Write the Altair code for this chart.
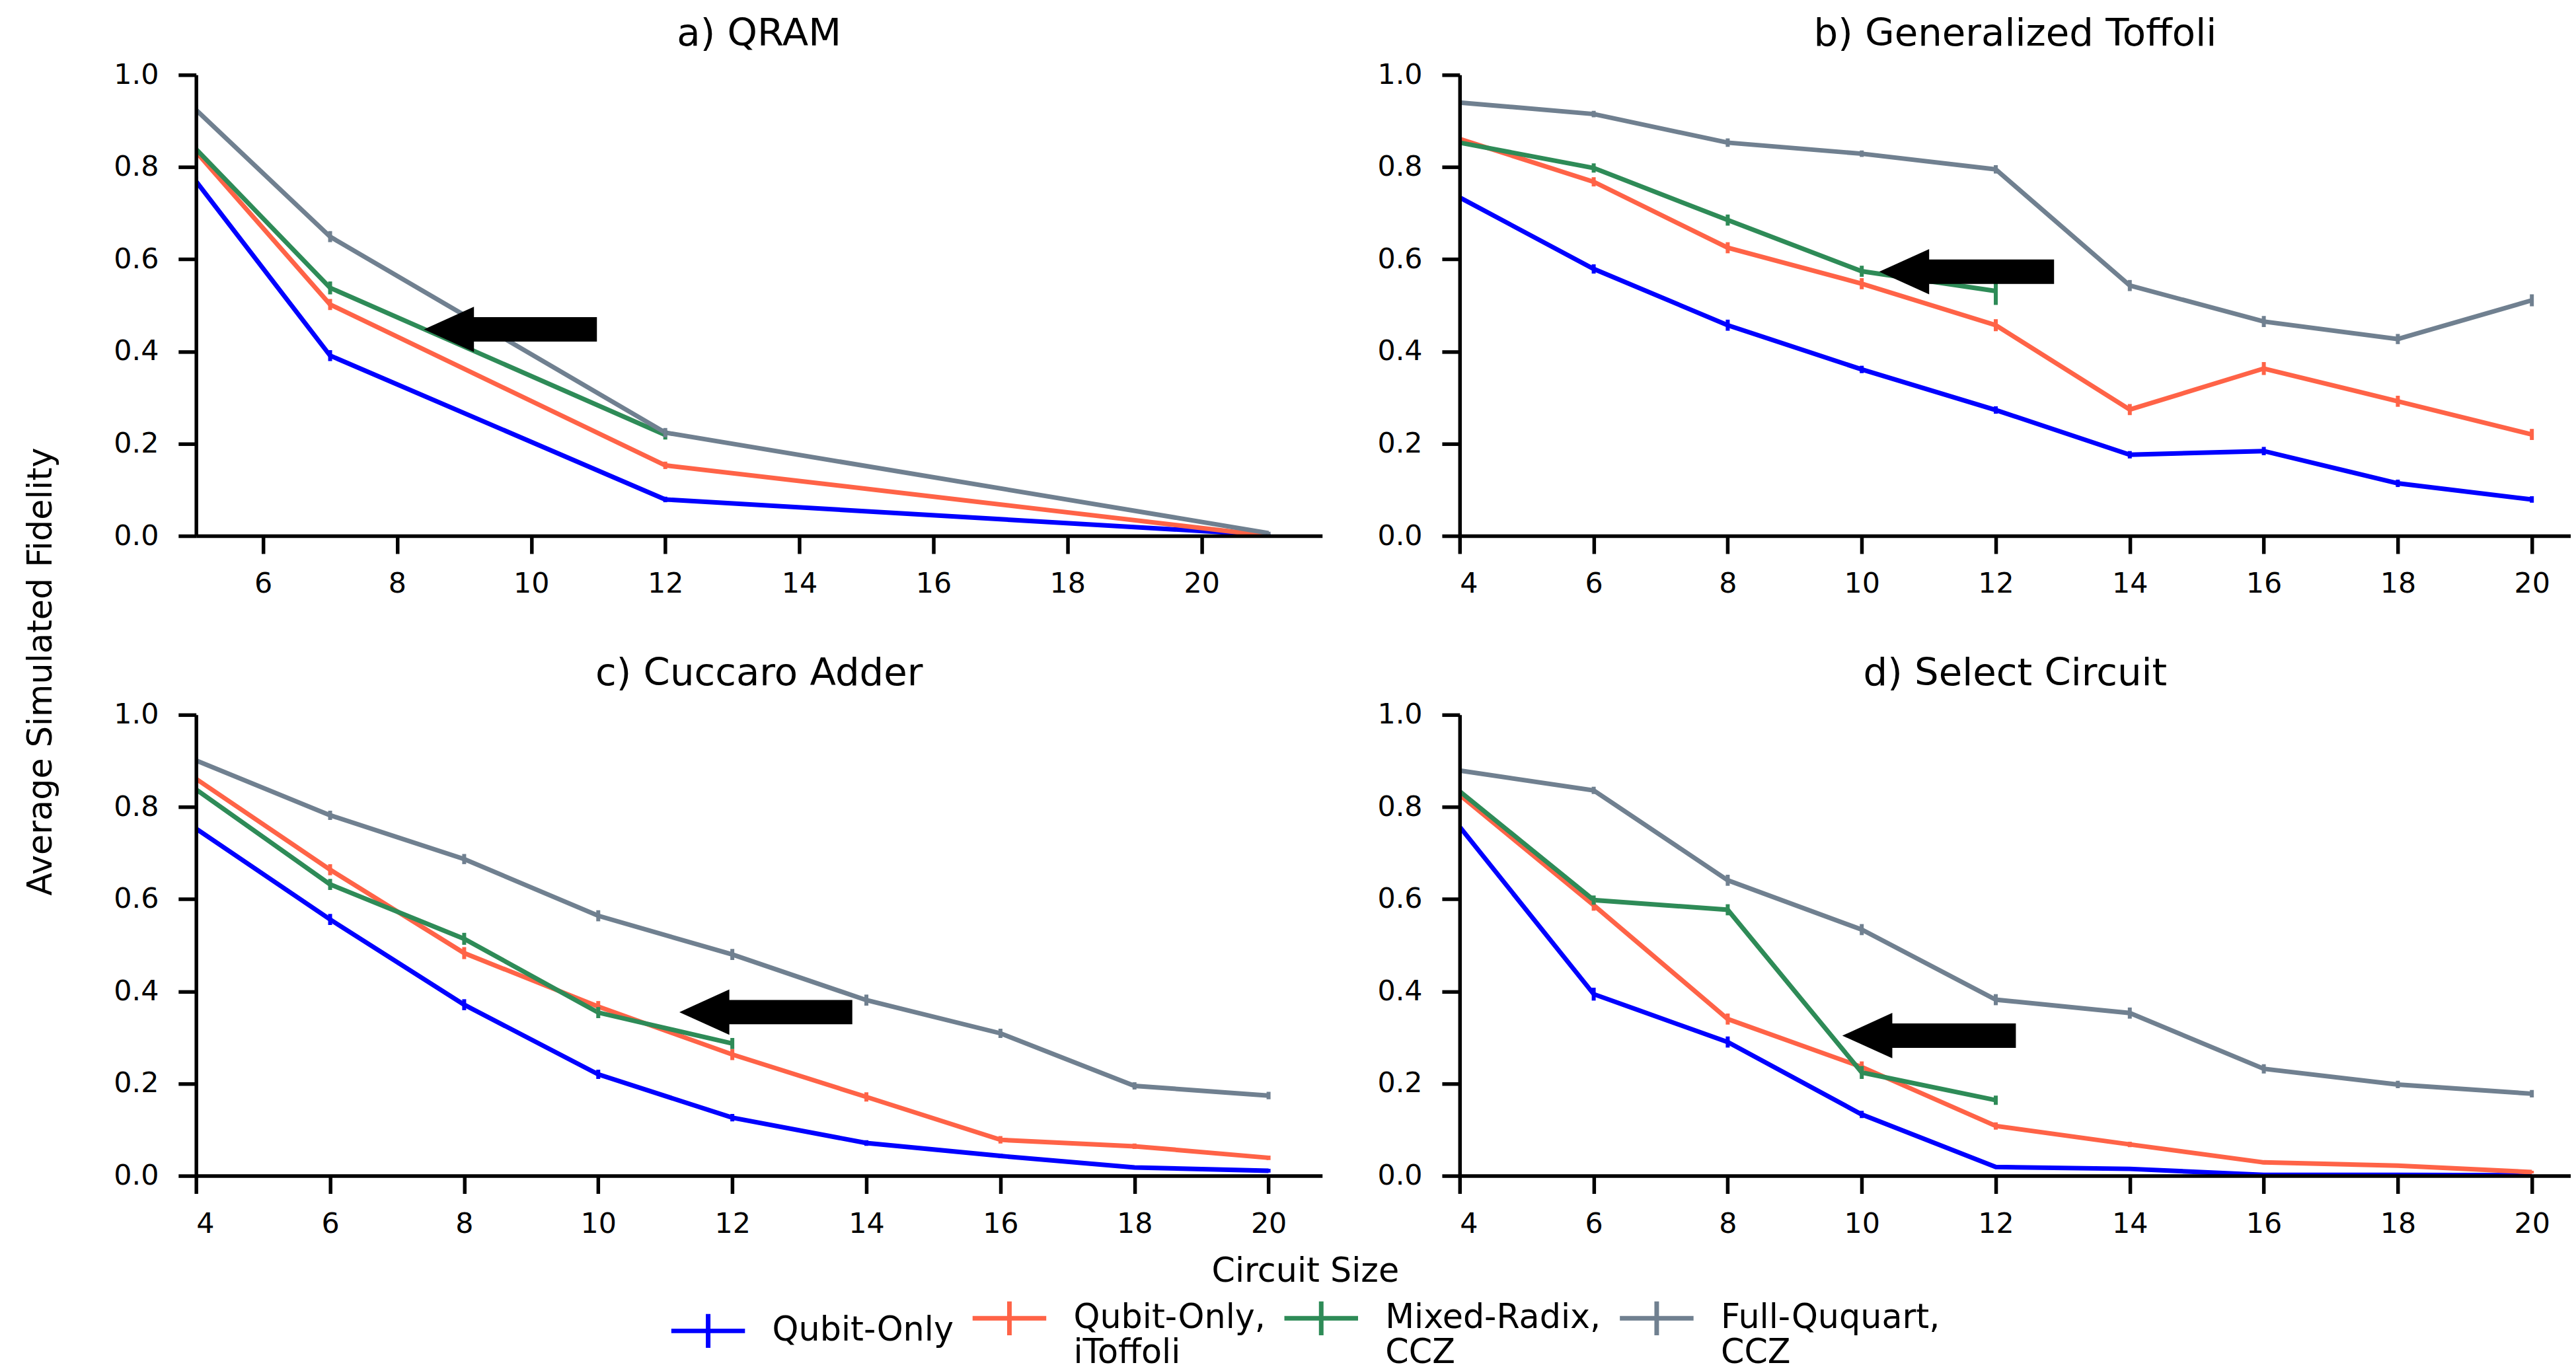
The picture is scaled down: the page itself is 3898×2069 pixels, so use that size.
import altair as alt
import pandas as pd

FONT = "DejaVu Sans"
SERIES = ["Qubit-Only", "Qubit-Only,\niToffoli", "Mixed-Radix,\nCCZ", "Full-Ququart,\nCCZ"]
COLORS = ["#0000FF", "#FF6347", "#2E8B57", "#708090"]

# ---------------- a) QRAM ----------------
qram_x = [5, 7, 12, 21]
qram_x_mr = [5, 7, 12]
qram_qubit = [0.769, 0.391, 0.079, 0.002]
qram_qubit_err = [0.010, 0.012, 0.006, 0.002]
qram_itoffoli = [0.833, 0.502, 0.153, 0.000]
qram_itoffoli_err = [0.010, 0.012, 0.008, 0.002]
qram_mixed = [0.839, 0.538, 0.219]
qram_mixed_err = [0.010, 0.014, 0.010]
qram_ququart = [0.924, 0.649, 0.224, 0.006]
qram_ququart_err = [0.010, 0.012, 0.010, 0.003]
qram_arrow = {"tip": 8.40, "tail": 10.98, "y": 0.448}

# ---------------- b) Generalized Toffoli ----------------
size_x = [4, 6, 8, 10, 12, 14, 16, 18, 20]
size_x_mr = [4, 6, 8, 10, 12]
tof_qubit = [0.734, 0.579, 0.457, 0.361, 0.273, 0.176, 0.184, 0.114, 0.079]
tof_qubit_err = [0.008, 0.010, 0.012, 0.008, 0.008, 0.008, 0.009, 0.008, 0.007]
tof_itoffoli = [0.861, 0.768, 0.625, 0.547, 0.457, 0.274, 0.363, 0.292, 0.220]
tof_itoffoli_err = [0.008, 0.010, 0.012, 0.012, 0.013, 0.012, 0.014, 0.012, 0.012]
tof_mixed = [0.853, 0.798, 0.685, 0.574, 0.531]
tof_mixed_err = [0.008, 0.010, 0.012, 0.012, 0.030]
tof_ququart = [0.940, 0.915, 0.853, 0.829, 0.795, 0.543, 0.465, 0.427, 0.511]
tof_ququart_err = [0.006, 0.007, 0.009, 0.007, 0.009, 0.012, 0.012, 0.011, 0.013]
tof_arrow = {"tip": 10.26, "tail": 12.87, "y": 0.573}

# ---------------- c) Cuccaro Adder ----------------
add_qubit = [0.753, 0.556, 0.371, 0.220, 0.126, 0.071, 0.043, 0.018, 0.011]
add_qubit_err = [0.008, 0.012, 0.012, 0.010, 0.008, 0.006, 0.005, 0.004, 0.004]
add_itoffoli = [0.861, 0.664, 0.483, 0.367, 0.263, 0.171, 0.078, 0.064, 0.039]
add_itoffoli_err = [0.008, 0.012, 0.013, 0.012, 0.012, 0.010, 0.008, 0.006, 0.005]
add_mixed = [0.838, 0.632, 0.514, 0.354, 0.287]
add_mixed_err = [0.008, 0.012, 0.013, 0.012, 0.012]
add_ququart = [0.901, 0.782, 0.687, 0.564, 0.480, 0.381, 0.309, 0.195, 0.174]
add_ququart_err = [0.006, 0.010, 0.011, 0.012, 0.012, 0.012, 0.010, 0.008, 0.008]
add_arrow = {"tip": 11.21, "tail": 13.79, "y": 0.355}

# ---------------- d) Select Circuit ----------------
sel_qubit = [0.757, 0.394, 0.290, 0.133, 0.019, 0.015, 0.002, 0.002, 0.001]
sel_qubit_err = [0.008, 0.014, 0.012, 0.008, 0.004, 0.003, 0.002, 0.002, 0.001]
sel_itoffoli = [0.826, 0.587, 0.340, 0.236, 0.108, 0.068, 0.029, 0.022, 0.008]
sel_itoffoli_err = [0.008, 0.012, 0.012, 0.012, 0.008, 0.006, 0.004, 0.004, 0.003]
sel_mixed = [0.834, 0.598, 0.577, 0.224, 0.164]
sel_mixed_err = [0.008, 0.010, 0.012, 0.014, 0.010]
sel_ququart = [0.879, 0.836, 0.641, 0.534, 0.382, 0.353, 0.232, 0.198, 0.178]
sel_ququart_err = [0.006, 0.008, 0.012, 0.012, 0.012, 0.012, 0.010, 0.008, 0.008]
sel_arrow = {"tip": 9.71, "tail": 12.30, "y": 0.304}

Y_TICKS = [0.0, 0.2, 0.4, 0.6, 0.8, 1.0]
X_TICKS_A = [6, 8, 10, 12, 14, 16, 18, 20]
X_TICKS = [4, 6, 8, 10, 12, 14, 16, 18, 20]

HEAD_PATH = "M0,0L2,-0.908L2,0.908Z"
HEAD_SIZE = 5776
HEAD_LEN = 0.70

LEGEND = alt.Legend(
    title=None,
    orient="none",
    legendX=719,
    legendY=59,
    direction="horizontal",
    padding=0,
    symbolType="M-1,0H1M0,-0.46V0.46",
    symbolSize=12544,
    symbolStrokeWidth=7,
    symbolOpacity=1,
    labelFontSize=51,
    labelFont=FONT,
    labelColor="black",
    labelLimit=1000,
    labelOffset=38,
    columnPadding=14,
    labelExpr="split(datum.label, '\\n')",
)
COLOR_SCALE = alt.Scale(domain=SERIES, range=COLORS)


def make_df(xs_list, ys_list, errs_list):
    rows = []
    for s, xs, ys, es in zip(SERIES, xs_list, ys_list, errs_list):
        for x, y, e in zip(xs, ys, es):
            rows.append({"series": s, "x": x, "y": y, "lo": max(0.0, y - e), "hi": y + e})
    return pd.DataFrame(rows)


def panel(title, df, arrow, xdomain, xticks, width):
    xs = alt.Scale(domain=xdomain, nice=False, zero=False)
    ys = alt.Scale(domain=[0, 1], nice=False, zero=False)
    xaxis = alt.Axis(values=xticks, labelPadding=25, tickSize=27, zindex=1, grid=False)
    yaxis = alt.Axis(values=Y_TICKS, format=".1f", labelPadding=30, tickSize=27, zindex=1, grid=False)
    color = alt.Color("series:N", scale=COLOR_SCALE, legend=None)
    base = alt.Chart(df)
    lines = base.mark_line(strokeWidth=7, clip=True).encode(
        x=alt.X("x:Q", scale=xs, axis=xaxis, title=None),
        y=alt.Y("y:Q", scale=ys, axis=yaxis, title=None),
        color=color,
    )
    errs = base.mark_rule(strokeWidth=6, clip=True).encode(
        x=alt.X("x:Q", scale=xs, axis=xaxis, title=None),
        y=alt.Y("lo:Q", scale=ys, axis=yaxis, title=None),
        y2="hi:Q",
        color=color,
    )
    adf = pd.DataFrame([{"tip": arrow["tip"], "tail": arrow["tail"], "y": arrow["y"],
                         "shaft": arrow["tip"] + HEAD_LEN}])
    shaft = alt.Chart(adf).mark_rule(color="black", strokeWidth=37, strokeCap="butt").encode(
        x=alt.X("shaft:Q", scale=xs, axis=xaxis, title=None),
        x2="tail:Q",
        y=alt.Y("y:Q", scale=ys, axis=yaxis, title=None),
    )
    head = alt.Chart(adf).mark_point(shape=HEAD_PATH, size=HEAD_SIZE, filled=True,
                                     color="black", opacity=1, strokeWidth=0).encode(
        x=alt.X("tip:Q", scale=xs, axis=xaxis, title=None),
        y=alt.Y("y:Q", scale=ys, axis=yaxis, title=None),
    )
    return alt.layer(lines, errs, shaft, head).properties(
        width=width,
        height=701,
        title=alt.TitleParams(title, fontSize=58, font=FONT, fontWeight="normal",
                              anchor="middle", baseline="alphabetic", offset=-34, color="black"),
    )


df_a = make_df([qram_x, qram_x, qram_x_mr, qram_x],
               [qram_qubit, qram_itoffoli, qram_mixed, qram_ququart],
               [qram_qubit_err, qram_itoffoli_err, qram_mixed_err, qram_ququart_err])
df_b = make_df([size_x, size_x, size_x_mr, size_x],
               [tof_qubit, tof_itoffoli, tof_mixed, tof_ququart],
               [tof_qubit_err, tof_itoffoli_err, tof_mixed_err, tof_ququart_err])
df_c = make_df([size_x, size_x, size_x_mr, size_x],
               [add_qubit, add_itoffoli, add_mixed, add_ququart],
               [add_qubit_err, add_itoffoli_err, add_mixed_err, add_ququart_err])
df_d = make_df([size_x, size_x, size_x_mr, size_x],
               [sel_qubit, sel_itoffoli, sel_mixed, sel_ququart],
               [sel_qubit_err, sel_itoffoli_err, sel_mixed_err, sel_ququart_err])

pa = panel("a) QRAM", df_a, qram_arrow, [5, 21.8], X_TICKS_A, 1712)
pb = panel("b) Generalized Toffoli", df_b, tof_arrow, [4, 20.58], X_TICKS, 1689)
pc = panel("c) Cuccaro Adder", df_c, add_arrow, [4, 20.8], X_TICKS, 1712)
pd_ = panel("d) Select Circuit", df_d, sel_arrow, [4, 20.58], X_TICKS, 1689)

row1 = alt.hconcat(pa, pb, spacing=83)
row2 = alt.hconcat(pc, pd_, spacing=83)
grid = alt.vconcat(row1, row2, spacing=86)

legend_df = pd.DataFrame({"series": SERIES, "v": [0.0] * len(SERIES)})
footer = alt.Chart(legend_df).mark_point(opacity=0).encode(
    x=alt.X("v:Q", scale=alt.Scale(domain=[0, 1]),
            axis=alt.Axis(title="Circuit Size", labels=False, ticks=False, domain=False, grid=False,
                          titleFontSize=51, titleFont=FONT, titleFontWeight="normal", titleColor="black",
                          titlePadding=62, titleBaseline="alphabetic", minExtent=0, maxExtent=0)),
    color=alt.Color("series:N", scale=COLOR_SCALE, legend=LEGEND),
).properties(width=3372, height=1)

main = alt.vconcat(grid, footer, spacing=0).resolve_scale(color="independent")

dummy = pd.DataFrame({"v": [0.0]})
ylabel = alt.Chart(dummy).mark_point(opacity=0).encode(
    y=alt.Y("v:Q", scale=alt.Scale(domain=[0, 1]),
            axis=alt.Axis(title="Average Simulated Fidelity", labels=False, ticks=False, domain=False,
                          grid=False, titleFontSize=51, titleFont=FONT, titleFontWeight="normal",
                          titleColor="black", titlePadding=10, titleBaseline="alphabetic",
                          minExtent=0, maxExtent=0))
).properties(width=1, height=1814)

chart = alt.hconcat(ylabel, main, spacing=80).resolve_scale(color="independent").properties(
    padding={"left": 29, "top": 10, "right": 0, "bottom": 0}
).configure(font=FONT).configure_axis(
    domainColor="black", domainWidth=5.5, tickColor="black", tickWidth=5.5,
    labelFontSize=43, labelFont=FONT, labelColor="black", grid=False,
).configure_view(strokeWidth=0)

chart.save("out.html", embed_options={"renderer": "svg", "actions": False})
